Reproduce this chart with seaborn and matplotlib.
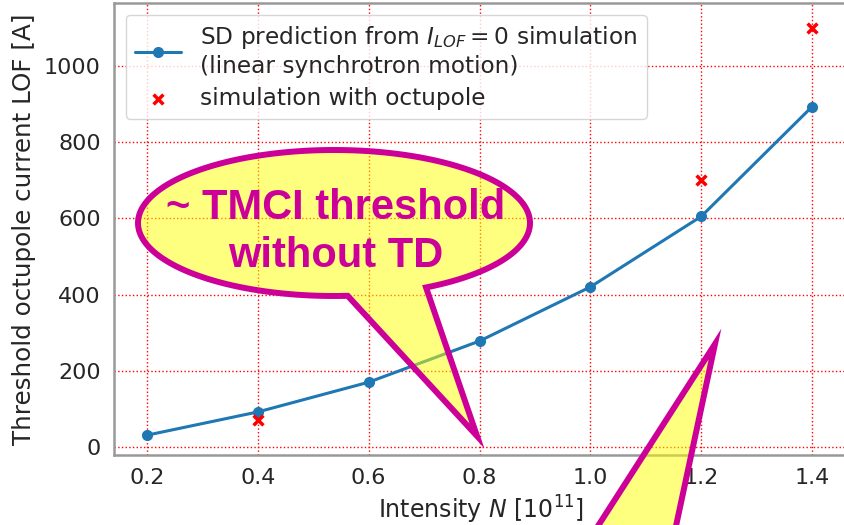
import matplotlib
matplotlib.use("Agg")
import matplotlib.pyplot as plt
import seaborn as sns
import numpy as np
import pandas as pd
from matplotlib.patches import Polygon, PathPatch
from matplotlib.path import Path
from matplotlib.transforms import Affine2D

intensity = [0.2, 0.4, 0.6, 0.8, 1.0, 1.2, 1.4]
sd_prediction = [31, 92, 170, 278, 420, 605, 893]
sim_x = [0.4, 1.2, 1.4]
sim_octupole = [70, 700, 1100]
xticks = [0.2, 0.4, 0.6, 0.8, 1.0, 1.2, 1.4]
yticks = [0, 200, 400, 600, 800, 1000]

sns.set_style("whitegrid", {"grid.color": "red", "grid.linestyle": ":",
                            "axes.edgecolor": "0.6"})
plt.rcParams['font.family'] = ['DejaVu Sans']
plt.rcParams['grid.linewidth'] = 1.0
plt.rcParams['axes.linewidth'] = 1.8

fig = plt.figure(figsize=(8.44, 5.25), dpi=100)
ax = fig.add_axes([114/844, 1-455/525, (847-114)/844, (455-3)/525])

df1 = pd.DataFrame({"x": intensity, "y": sd_prediction})
df2 = pd.DataFrame({"x": sim_x, "y": sim_octupole})
sns.lineplot(data=df1, x="x", y="y", ax=ax, color="#1f77b4", marker="o",
             markersize=8, markeredgewidth=0, linewidth=2.2,
             label="SD prediction from $I_{LOF}=0$ simulation\n(linear synchrotron motion)")
sns.scatterplot(data=df2, x="x", y="y", ax=ax, color="red", marker="x",
                s=50, linewidth=2.5, label="simulation with octupole", zorder=3)

ax.set_xlim(0.1405, 1.463)
ax.set_ylim(-21, 1165)
ax.set_xticks(xticks)
ax.set_yticks(yticks)
ax.set_xticklabels([f"{v:.1f}" for v in xticks], fontsize=16)
ax.set_yticklabels([str(v) for v in yticks], fontsize=16)
ax.set_xlabel("Intensity $N$ [$10^{11}$]", fontsize=17, labelpad=4)
ax.set_ylabel("Threshold octupole current LOF [A]", fontsize=17.7, labelpad=6)
ax.tick_params(axis='both', pad=6)
leg = ax.legend(loc="upper left", fontsize=16.75, frameon=True, borderaxespad=0.5,
                handlelength=2.0, labelspacing=0.4)
leg.get_frame().set_edgecolor("0.8")

# speech bubble (pixel coordinates, y downwards)
H = 525
pix = Affine2D().scale(1, -1).translate(0, H)
cx, cy, a, b = 334, 223, 196, 73
t = np.radians(np.linspace(86, 422, 200))
pts = np.column_stack([cx + a*np.cos(t), cy + b*np.sin(t)])
pts = np.vstack([pts, [[477, 436]], pts[:1]])
codes = [Path.MOVETO] + [Path.LINETO]*(len(pts)-2) + [Path.CLOSEPOLY]
bubble = PathPatch(Path(pts, codes), facecolor=(1, 1, 0, 0.5), edgecolor="#cc0099",
                   linewidth=4.3, transform=pix, zorder=5, joinstyle='miter')
fig.patches.append(bubble)

tail2 = Polygon([[589, 540], [715, 344], [673, 540]], closed=True,
                facecolor=(1, 1, 0, 0.5), edgecolor="#cc0099", linewidth=4.3,
                transform=pix, zorder=5, joinstyle='miter')
fig.patches.append(tail2)

fig.text(336/844, 1-232/525, "~ TMCI threshold\nwithout TD", ha="center", va="center",
         fontsize=30, fontweight="bold", color="#cc0099", family="Liberation Sans",
         linespacing=1.25, zorder=6)

fig.savefig("out.png", dpi=100)
